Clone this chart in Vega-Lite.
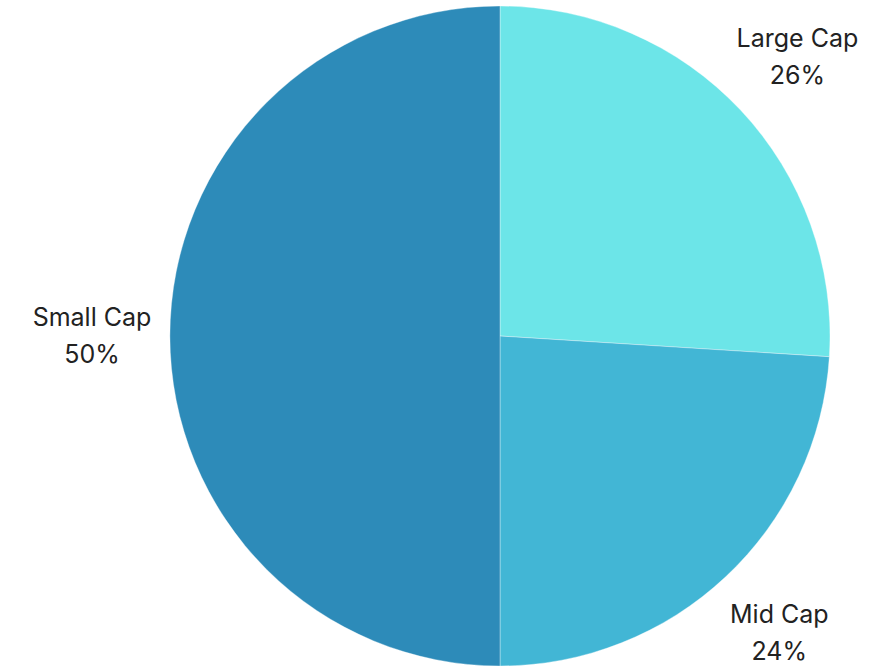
{
  "$schema": "https://vega.github.io/schema/vega-lite/v6.json",
  "autosize": {"type": "none"},
  "width": 780,
  "height": 672,
  "padding": {"left": 110, "top": 0, "right": 0, "bottom": 0},
  "background": "white",
  "config": {"view": {"stroke": null}},
  "data": {
    "values": [
      {"category": "Large Cap", "value": 26, "ord": 1, "label": "Large Cap\n26%"},
      {"category": "Mid Cap", "value": 24, "ord": 2, "label": "Mid Cap\n24%"},
      {"category": "Small Cap", "value": 50, "ord": 3, "label": "Small Cap\n50%"}
    ]
  },
  "encoding": {
    "theta": {"field": "value", "type": "quantitative", "stack": true},
    "order": {"field": "ord", "type": "quantitative"}
  },
  "layer": [
    {
      "mark": {"type": "arc", "outerRadius": 330, "stroke": "#ffffff", "strokeOpacity": 0.35, "strokeWidth": 1},
      "encoding": {
        "color": {
          "field": "category",
          "type": "nominal",
          "scale": {"domain": ["Large Cap", "Mid Cap", "Small Cap"], "range": ["#6ce5e8", "#42b6d5", "#2d8bb9"]},
          "legend": null
        }
      }
    },
    {
      "mark": {"type": "text", "radius": 408, "font": "Inter", "fontSize": 25, "fill": "#222222", "lineBreak": "\n", "lineHeight": 37, "align": "center", "baseline": "middle", "dy": -18},
      "encoding": {
        "text": {"field": "label", "type": "nominal"}
      }
    }
  ]
}
